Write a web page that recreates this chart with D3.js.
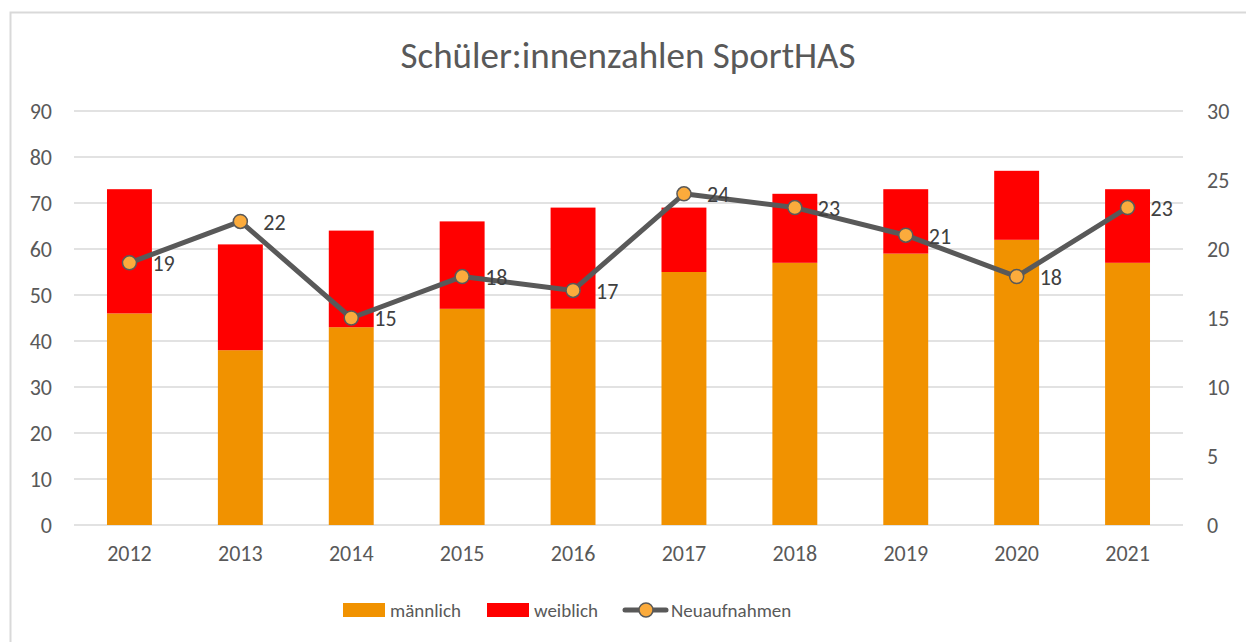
<!DOCTYPE html>
<html>
<head>
<meta charset="utf-8">
<script src="https://cdn.jsdelivr.net/npm/d3@7"></script>
<style>
  html, body { margin: 0; padding: 0; background: #fff; }
  svg { display: block; font-family: Carlito, Calibri, Lato, "Open Sans", sans-serif; }
</style>
</head>
<body>
<svg id="chart" width="1246" height="642"></svg>
<script>
// School years and enrolment figures
const years = ["2012", "2013", "2014", "2015", "2016", "2017", "2018", "2019", "2020", "2021"];
const maennlich = [46, 38, 43, 47, 47, 55, 57, 59, 62, 57];
const weiblich = [27, 23, 21, 19, 22, 14, 15, 14, 15, 16];
const neuaufnahmen = [19, 22, 15, 18, 17, 24, 23, 21, 18, 23];
const leftTicks = [0, 10, 20, 30, 40, 50, 60, 70, 80, 90];
const rightTicks = [0, 5, 10, 15, 20, 25, 30];

const svg = d3.select("#chart");
const textColor = "#595959";
const gridColor = "#d9d9d9";
const fontStack = 'Carlito, Calibri, Lato, "Open Sans", sans-serif';

// chart frame
svg.append("rect")
  .attr("x", 10.5).attr("y", 12.5)
  .attr("width", 1250).attr("height", 650)
  .attr("fill", "#fff").attr("stroke", gridColor).attr("stroke-width", 2);

const plot = { left: 74, right: 1183, top: 111, bottom: 525 };

const x = d3.scaleBand().domain(years)
  .range([plot.left, plot.right])
  .paddingInner(0.595).paddingOuter(0.2975);
const yL = d3.scaleLinear().domain([0, 90]).range([plot.bottom, plot.top]);
const yR = d3.scaleLinear().domain([0, 30]).range([plot.bottom, plot.top]);

// title
svg.append("text")
  .attr("x", 628).attr("y", 68)
  .attr("text-anchor", "middle")
  .attr("font-size", 37).attr("fill", textColor)
  .text("Schüler:innenzahlen SportHAS");

// horizontal gridlines
svg.append("g").selectAll("line").data(leftTicks).join("line")
  .attr("x1", plot.left).attr("x2", plot.right)
  .attr("y1", d => yL(d)).attr("y2", d => yL(d))
  .attr("stroke", gridColor).attr("stroke-width", 1.5);

function styleAxis(g) {
  g.attr("font-family", fontStack).attr("font-size", 22);
  g.select(".domain").remove();
  g.selectAll("text").attr("fill", textColor);
}

// left axis
svg.append("g").attr("transform", `translate(${plot.left - 22},0)`)
  .call(d3.axisLeft(yL).tickValues(leftTicks).tickSize(0).tickPadding(0))
  .call(styleAxis);

// right axis
svg.append("g").attr("transform", `translate(${plot.right + 24},0)`)
  .call(d3.axisRight(yR).tickValues(rightTicks).tickSize(0).tickPadding(0))
  .call(styleAxis);

// bottom axis
svg.append("g").attr("transform", `translate(0,${plot.bottom + 20})`)
  .call(d3.axisBottom(x).tickSize(0).tickPadding(0))
  .call(styleAxis);

// stacked bars
const stacked = years.map((y, i) => ({ year: y, m: maennlich[i], w: weiblich[i] }));
const stack = d3.stack().keys(["m", "w"])(stacked);
const barColors = { m: "#f19200", w: "#ff0000" };
svg.append("g").selectAll("g").data(stack).join("g")
  .attr("fill", s => barColors[s.key])
  .selectAll("rect").data(s => s).join("rect")
  .attr("x", d => x(d.data.year))
  .attr("width", x.bandwidth())
  .attr("y", d => yL(d[1]))
  .attr("height", d => yL(d[0]) - yL(d[1]));

// line series on right axis
const cx = d => x(d) + x.bandwidth() / 2;
const line = d3.line().x((d, i) => cx(years[i])).y(d => yR(d));
svg.append("path").datum(neuaufnahmen)
  .attr("d", line).attr("fill", "none")
  .attr("stroke", "#595959").attr("stroke-width", 5)
  .attr("stroke-linejoin", "round").attr("stroke-linecap", "round");

svg.append("g").selectAll("circle").data(neuaufnahmen).join("circle")
  .attr("cx", (d, i) => cx(years[i])).attr("cy", d => yR(d)).attr("r", 7)
  .attr("fill", "#fbab3c").attr("stroke", "#595959").attr("stroke-width", 1.5);

// data labels
svg.append("g").selectAll("text").data(neuaufnahmen).join("text")
  .attr("x", (d, i) => cx(years[i]) + 23).attr("y", d => yR(d))
  .attr("dy", "0.38em").attr("font-size", 22).attr("fill", "#404040")
  .text(d => d);

// legend
const lg = svg.append("g").attr("font-size", 19).attr("fill", textColor);
lg.append("rect").attr("x", 343).attr("y", 603).attr("width", 42).attr("height", 14).attr("fill", barColors.m);
lg.append("text").attr("x", 390).attr("y", 617).text("männlich");
lg.append("rect").attr("x", 487).attr("y", 603).attr("width", 42).attr("height", 14).attr("fill", barColors.w);
lg.append("text").attr("x", 534).attr("y", 617).text("weiblich");
lg.append("line").attr("x1", 625).attr("x2", 666).attr("y1", 610).attr("y2", 610)
  .attr("stroke", "#595959").attr("stroke-width", 5).attr("stroke-linecap", "round");
lg.append("circle").attr("cx", 646).attr("cy", 610).attr("r", 7)
  .attr("fill", "#fbab3c").attr("stroke", "#595959").attr("stroke-width", 1.5);
lg.append("text").attr("x", 671).attr("y", 617).text("Neuaufnahmen");
</script>
</body>
</html>
